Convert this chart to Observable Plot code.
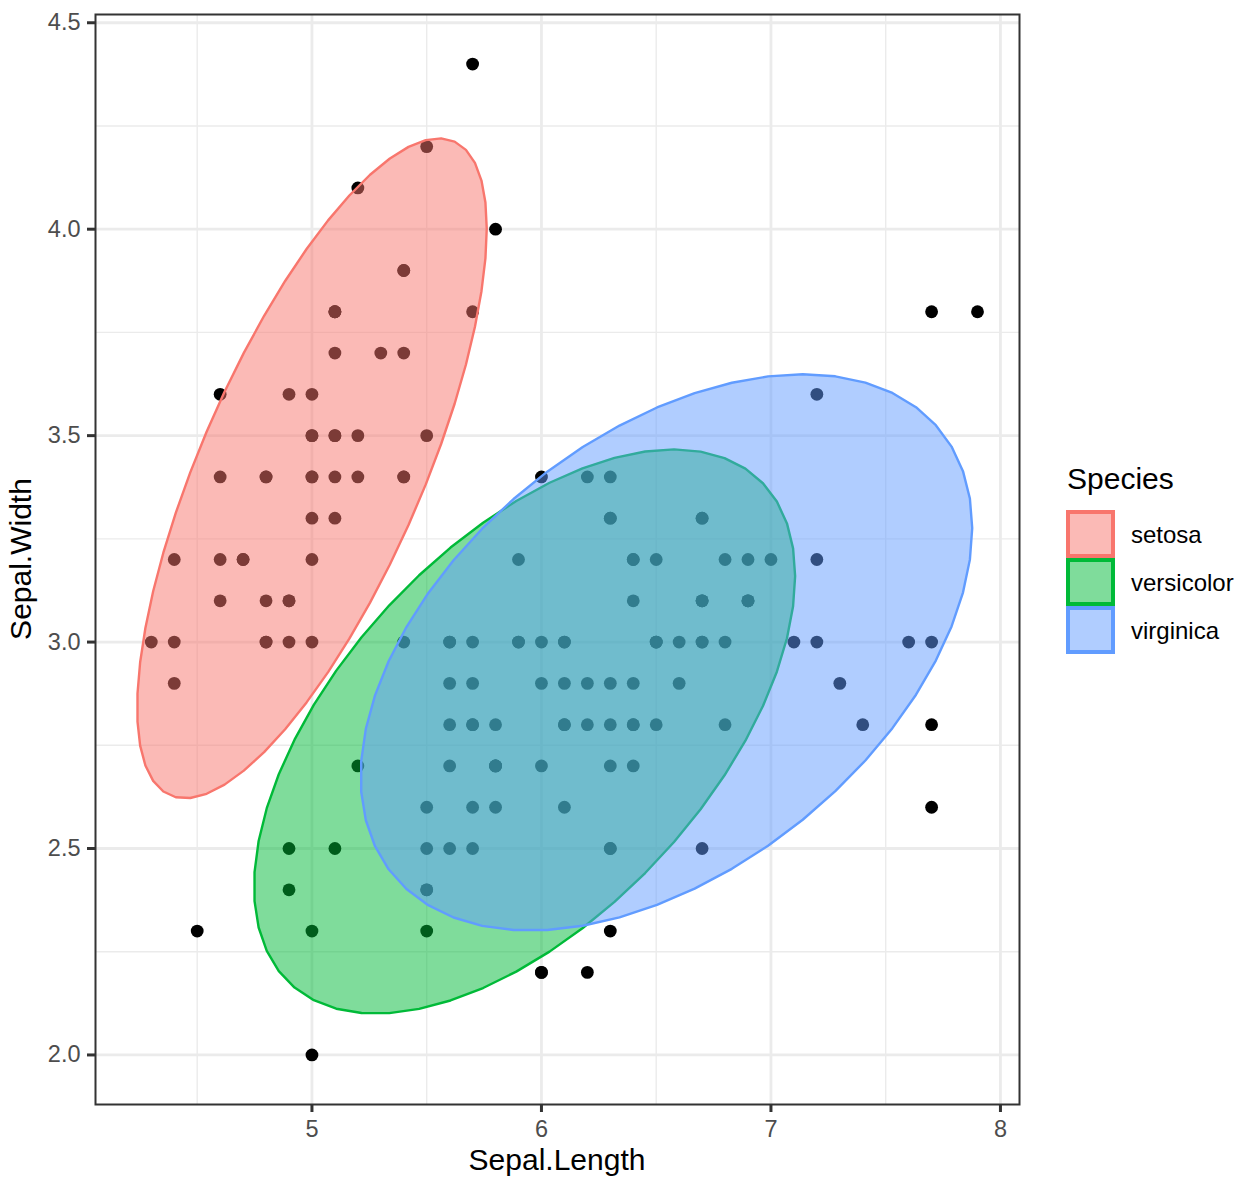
<!DOCTYPE html>
<html><head><meta charset="utf-8">
<script src="https://cdn.jsdelivr.net/npm/d3@7"></script>
<script src="https://cdn.jsdelivr.net/npm/@observablehq/plot@0.6"></script>
<style>
body{margin:0;background:#fff;}
#wrap{width:1259px;height:1185px;}
</style></head><body><div id="wrap"></div>
<script>
// ---- data (iris: Sepal.Length / Sepal.Width by species) ----
const speciesNames = ["setosa", "versicolor", "virginica"];
const speciesColors = ["#F8766D", "#00BA38", "#619CFF"];

const setosaLength = [5.1,4.9,4.7,4.6,5.0,5.4,4.6,5.0,4.4,4.9,5.4,4.8,4.8,4.3,5.8,5.7,5.4,5.1,5.7,5.1,5.4,5.1,4.6,5.1,4.8,5.0,5.0,5.2,5.2,4.7,4.8,5.4,5.2,5.5,4.9,5.0,5.5,4.9,4.4,5.1,5.0,4.5,4.4,5.0,5.1,4.8,5.1,4.6,5.3,5.0];
const setosaWidth  = [3.5,3.0,3.2,3.1,3.6,3.9,3.4,3.4,2.9,3.1,3.7,3.4,3.0,3.0,4.0,4.4,3.9,3.5,3.8,3.8,3.4,3.7,3.6,3.3,3.4,3.0,3.4,3.5,3.4,3.2,3.1,3.4,4.1,4.2,3.1,3.2,3.5,3.6,3.0,3.4,3.5,2.3,3.2,3.5,3.8,3.0,3.8,3.2,3.7,3.3];

const versicolorLength = [7.0,6.4,6.9,5.5,6.5,5.7,6.3,4.9,6.6,5.2,5.0,5.9,6.0,6.1,5.6,6.7,5.6,5.8,6.2,5.6,5.9,6.1,6.3,6.1,6.4,6.6,6.8,6.7,6.0,5.7,5.5,5.5,5.8,6.0,5.4,6.0,6.7,6.3,5.6,5.5,5.5,6.1,5.8,5.0,5.6,5.7,5.7,6.2,5.1,5.7];
const versicolorWidth  = [3.2,3.2,3.1,2.3,2.8,2.8,3.3,2.4,2.9,2.7,2.0,3.0,2.2,2.9,2.9,3.1,3.0,2.7,2.2,2.5,3.2,2.8,2.5,2.8,2.9,3.0,2.8,3.0,2.9,2.6,2.4,2.4,2.7,2.7,3.0,3.4,3.1,2.3,3.0,2.5,2.6,3.0,2.6,2.3,2.7,3.0,2.9,2.9,2.5,2.8];

const virginicaLength = [6.3,5.8,7.1,6.3,6.5,7.6,4.9,7.3,6.7,7.2,6.5,6.4,6.8,5.7,5.8,6.4,6.5,7.7,7.7,6.0,6.9,5.6,7.7,6.3,6.7,7.2,6.2,6.1,6.4,7.2,7.4,7.9,6.4,6.3,6.1,7.7,6.3,6.4,6.0,6.9,6.7,6.9,5.8,6.8,6.7,6.7,6.3,6.5,6.2,5.9];
const virginicaWidth  = [3.3,2.7,3.0,2.9,3.0,3.0,2.5,2.9,2.5,3.6,3.2,2.7,3.0,2.5,2.8,3.2,3.0,3.8,2.6,2.2,3.2,2.8,2.8,2.7,3.3,3.2,2.8,3.0,2.8,3.0,2.8,3.8,2.8,2.8,2.6,3.0,3.4,3.1,3.0,3.1,3.1,3.1,2.7,3.2,3.3,3.0,2.5,3.0,3.4,3.0];

const xTicks = [5, 6, 7, 8];
const xMinor = [4.5, 5.5, 6.5, 7.5];
const yTicks = [2.0, 2.5, 3.0, 3.5, 4.0, 4.5];
const yMinor = [2.25, 2.75, 3.25, 3.75, 4.25];

// ---- build tables ----
const groups = [
  [setosaLength, setosaWidth],
  [versicolorLength, versicolorWidth],
  [virginicaLength, virginicaWidth]
];
const points = [];
groups.forEach(([xs, ys], g) => xs.forEach((x, i) => points.push({species: speciesNames[g], x, y: ys[i]})));

// MASS::cov.trob (nu = 5) as used by ggplot2::stat_ellipse
function covTrob(xs, ys) {
  const n = xs.length, p = 2, nu = 5, tol = 0.01;
  let lx = d3.mean(xs), ly = d3.mean(ys);
  let w = new Array(n).fill(1);
  let X;
  for (let iter = 0; iter < 25; iter++) {
    const w0 = w.slice();
    X = xs.map((x, i) => [x - lx, ys[i] - ly]);
    const sw = d3.sum(w);
    let a = 0, b = 0, c = 0;
    X.forEach(([u, v], i) => { a += w[i] * u * u / sw; b += w[i] * u * v / sw; c += w[i] * v * v / sw; });
    const det = a * c - b * b;
    const Q = X.map(([u, v]) => (c * u * u - 2 * b * u * v + a * v * v) / det);
    w = Q.map(q => (nu + p) / (nu + q));
    const sw2 = d3.sum(w);
    lx = d3.sum(xs, (x, i) => w[i] * x) / sw2;
    ly = d3.sum(ys, (y, i) => w[i] * y) / sw2;
    if (w.every((wi, i) => Math.abs(wi - w0[i]) < tol)) break;
  }
  let a = 0, b = 0, c = 0;
  X.forEach(([u, v], i) => { a += w[i] * u * u; b += w[i] * u * v; c += w[i] * v * v; });
  return {center: [lx, ly], cov: [a / n, b / n, c / n]};
}

function ellipse(xs, ys, name, level = 0.95, segments = 51) {
  const {center, cov} = covTrob(xs, ys);
  const dfd = xs.length - 1;
  const fq = (dfd / 2) * (Math.pow(1 - level, -2 / dfd) - 1); // qf(level, 2, dfd)
  const radius = Math.sqrt(2 * fq);
  const r11 = Math.sqrt(cov[0]), r12 = cov[1] / r11, r22 = Math.sqrt(cov[2] - r12 * r12);
  const out = [];
  for (let k = 0; k <= segments; k++) {
    const t = k * 2 * Math.PI / segments;
    const cx = Math.cos(t), sy = Math.sin(t);
    out.push({species: name, x: center[0] + radius * cx * r11, y: center[1] + radius * (cx * r12 + sy * r22)});
  }
  return out;
}
const ellipses = groups.map(([xs, ys], g) => ellipse(xs, ys, speciesNames[g]));

// scale domains: data + ellipse extents, 5% expansion (ggplot default)
const allX = points.map(d => d.x).concat(ellipses.flat().map(d => d.x));
const allY = points.map(d => d.y).concat(ellipses.flat().map(d => d.y));
const expand = ([lo, hi]) => [lo - 0.05 * (hi - lo), hi + 0.05 * (hi - lo)];
const xDomain = expand(d3.extent(allX));
const yDomain = expand(d3.extent(allY));

const FONT = "Liberation Sans, Arial, Helvetica, sans-serif";

const chart = Plot.plot({
  width: 1259,
  height: 1185,
  marginLeft: 95,
  marginRight: 240,
  marginTop: 14,
  marginBottom: 81,
  style: {fontFamily: FONT, fontSize: "23.5px", background: "white", overflow: "visible"},
  x: {domain: xDomain},
  y: {domain: yDomain},
  marks: [
    Plot.gridX(xMinor, {stroke: "#EBEBEB", strokeOpacity: 1, strokeWidth: 1.4}),
    Plot.gridY(yMinor, {stroke: "#EBEBEB", strokeOpacity: 1, strokeWidth: 1.4}),
    Plot.gridX(xTicks, {stroke: "#EBEBEB", strokeOpacity: 1, strokeWidth: 2.8}),
    Plot.gridY(yTicks, {stroke: "#EBEBEB", strokeOpacity: 1, strokeWidth: 2.8}),
    Plot.dot(points, {x: "x", y: "y", r: 6.4, fill: "black", stroke: null}),
    ...ellipses.map((e, g) => Plot.line(e, {x: "x", y: "y", stroke: speciesColors[g], strokeWidth: 2.4, fill: speciesColors[g], fillOpacity: 0.5, curve: "linear"})),
    Plot.frame({stroke: "#333333", strokeWidth: 2}),
    Plot.axisX(xTicks, {tickSize: 8, tickPadding: 8, stroke: "#333333", strokeWidth: 3, fill: "#4D4D4D", fontSize: 23.5, label: null, tickFormat: d => String(d)}),
    Plot.axisY(yTicks, {tickSize: 8, tickPadding: 7, stroke: "#333333", strokeWidth: 3, fill: "#4D4D4D", fontSize: 23.5, label: null, tickFormat: d3.format(".1f")})
  ]
});

document.getElementById("wrap").appendChild(chart);

// axis titles and legend (ggplot layout)
const svg = d3.select(chart);
svg.append("text").attr("x", 557).attr("y", 1170).attr("text-anchor", "middle")
  .attr("font-family", FONT).attr("font-size", 30).attr("fill", "black").text("Sepal.Length");
svg.append("text").attr("transform", "translate(31,559) rotate(-90)").attr("text-anchor", "middle")
  .attr("font-family", FONT).attr("font-size", 30).attr("fill", "black").text("Sepal.Width");

const leg = svg.append("g").attr("font-family", FONT).attr("text-anchor", "start");
leg.append("text").attr("x", 1067).attr("y", 489).attr("font-size", 30).attr("fill", "black").attr("text-anchor", "start").text("Species");
speciesNames.forEach((name, i) => {
  const top = 510 + 48 * i;
  leg.append("rect").attr("x", 1068).attr("y", top + 2).attr("width", 45).attr("height", 44)
    .attr("fill", speciesColors[i]).attr("fill-opacity", 0.5)
    .attr("stroke", speciesColors[i]).attr("stroke-width", 4);
  leg.append("text").attr("x", 1131).attr("y", top + 33).attr("font-size", 24).attr("fill", "black").attr("text-anchor", "start").text(name);
});
</script></body></html>
